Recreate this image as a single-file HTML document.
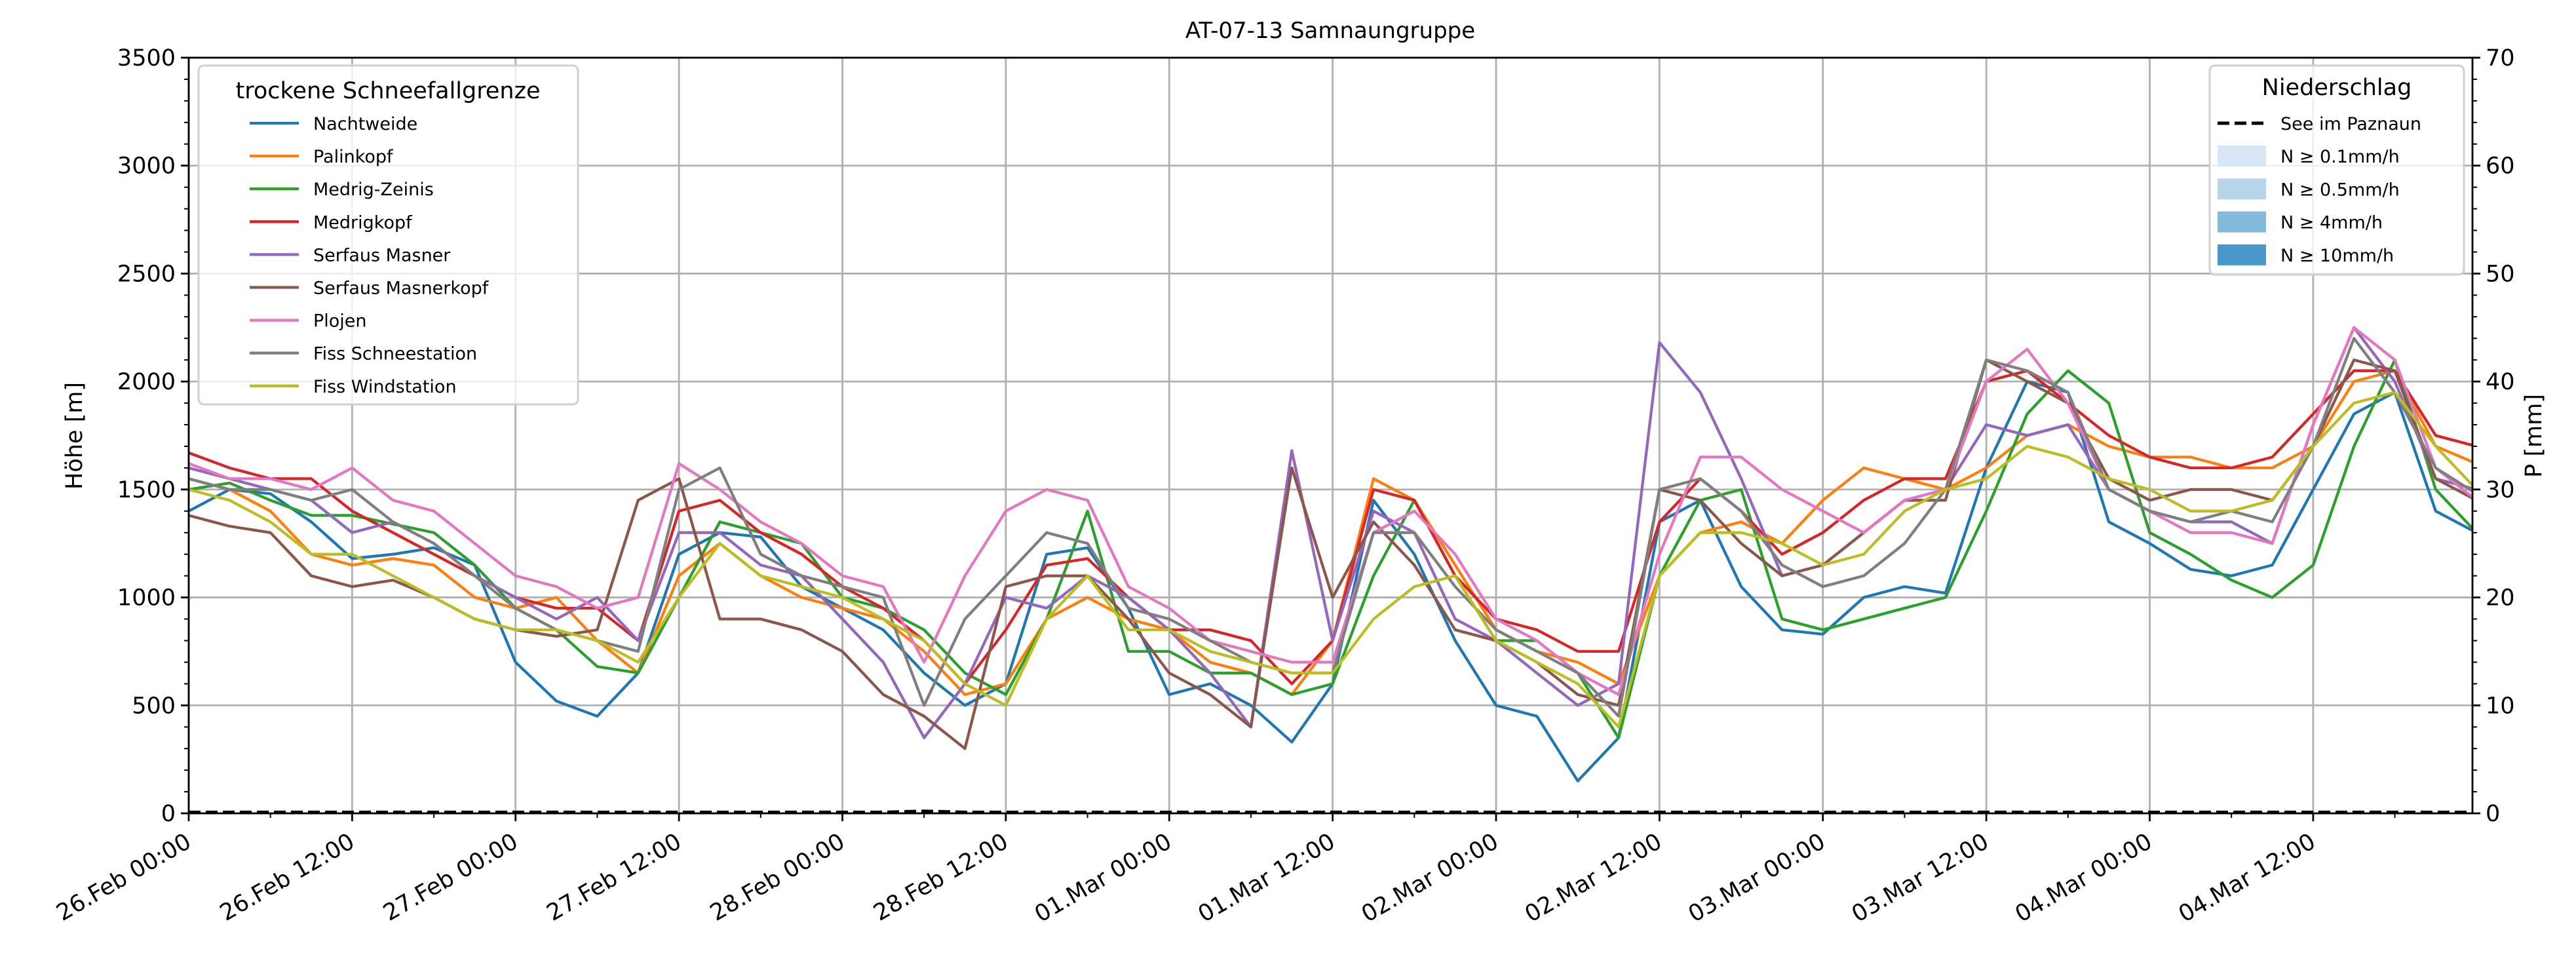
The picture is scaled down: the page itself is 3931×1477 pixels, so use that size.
<!DOCTYPE html>
<html><head><meta charset="utf-8"><style>
html,body{margin:0;padding:0;background:#fff;}
svg{display:block;font-family:"DejaVu Sans","Liberation Sans",sans-serif;}
</style></head><body>
<svg id="chart" width="3931" height="1477" viewBox="0 0 3931 1477" xmlns="http://www.w3.org/2000/svg">
<defs><clipPath id="plotclip"><rect x="288" y="88" width="3485" height="1153"/></clipPath></defs>
<rect x="0" y="0" width="3931" height="1477" fill="#fff"/>
<g id="grid"></g>
<g id="series" clip-path="url(#plotclip)"></g>
<g id="axes"></g>
<text x="2030" y="58" font-size="34" text-anchor="middle">AT-07-13 Samnaungruppe</text>
<text x="0" y="0" font-size="35" text-anchor="middle" transform="translate(125,665) rotate(-90)">Höhe [m]</text>
<text x="0" y="0" font-size="35" text-anchor="middle" transform="translate(3878,665) rotate(-90)">P [mm]</text>
<g id="legend1">
<rect x="303" y="100" width="579" height="517" rx="8" fill="#fff" fill-opacity="0.8" stroke="#d0d0d0" stroke-width="3"/>
<text x="592" y="150" font-size="35" text-anchor="middle">trockene Schneefallgrenze</text>
</g>
<g id="legend2">
<rect x="3372" y="100" width="388" height="319" rx="8" fill="#fff" fill-opacity="0.8" stroke="#d0d0d0" stroke-width="3"/>
<text x="3566" y="145" font-size="35" text-anchor="middle">Niederschlag</text>
</g>
</svg>
<script>
const hours = [];
for (let i = 0; i <= 56; i++) hours.push(i * 3);
const names = ["Nachtweide","Palinkopf","Medrig-Zeinis","Medrigkopf","Serfaus Masner","Serfaus Masnerkopf","Plojen","Fiss Schneestation","Fiss Windstation"];
const colors = ["#1f77b4","#ff7f0e","#2ca02c","#d62728","#9467bd","#8c564b","#e377c2","#7f7f7f","#bcbd22"];
const nachtweide = [1400,1500,1480,1350,1180,1200,1230,1150,700,520,450,650,1200,1300,1280,1050,950,850,650,500,600,1200,1230,950,550,600,500,330,600,1450,1200,800,500,450,150,350,1350,1450,1050,850,830,1000,1050,1020,1600,2000,1950,1350,1250,1130,1100,1150,1500,1850,1950,1400,1300];
const palinkopf = [1550,1500,1400,1200,1150,1180,1150,1000,950,1000,800,650,1100,1250,1100,1000,950,900,750,550,600,900,1000,900,850,700,650,550,800,1550,1450,1150,850,750,700,600,1100,1300,1350,1250,1450,1600,1550,1500,1600,1750,1800,1700,1650,1650,1600,1600,1700,2000,2050,1700,1620];
const medrigZeinis = [1500,1530,1450,1380,1380,1340,1300,1150,950,850,680,650,1000,1350,1300,1250,1000,950,850,650,550,900,1400,750,750,650,650,550,600,1100,1450,1100,800,800,650,350,1100,1450,1500,900,850,900,950,1000,1400,1850,2050,1900,1300,1200,1080,1000,1150,1700,2100,1500,1300];
const medrigkopf = [1670,1600,1550,1550,1400,1300,1200,1100,1000,950,950,800,1400,1450,1300,1200,1050,950,800,600,850,1150,1180,1000,850,850,800,600,800,1500,1450,1100,900,850,750,750,1350,1550,1400,1200,1300,1450,1550,1550,2000,2050,1900,1750,1650,1600,1600,1650,1850,2050,2050,1750,1700];
const serfausMasner = [1600,1550,1500,1450,1300,1350,1250,1100,1000,900,1000,800,1300,1300,1150,1100,900,700,350,600,1000,950,1100,1000,850,650,400,1680,800,1400,1300,900,800,650,500,600,2180,1950,1550,1100,1150,1300,1450,1500,1800,1750,1800,1500,1400,1350,1350,1250,1800,2250,2000,1550,1500];
const serfausMasnerkopf = [1380,1330,1300,1100,1050,1080,1000,900,850,820,850,1450,1550,900,900,850,750,550,450,300,1050,1100,1100,900,650,550,400,1600,1000,1350,1150,850,800,700,550,500,1500,1450,1250,1100,1150,1300,1450,1450,2100,2000,1900,1550,1450,1500,1500,1450,1700,2100,2050,1550,1450];
const plojen = [1620,1550,1550,1500,1600,1450,1400,1250,1100,1050,950,1000,1620,1500,1350,1250,1100,1050,700,1100,1400,1500,1450,1050,950,800,750,700,700,1300,1400,1200,900,800,650,550,1200,1650,1650,1500,1400,1300,1450,1500,2000,2150,1900,1500,1400,1300,1300,1250,1800,2250,2100,1600,1450];
const fissSchnee = [1550,1500,1500,1450,1500,1350,1250,1100,950,850,800,750,1500,1600,1200,1100,1050,1000,500,900,1100,1300,1250,950,900,800,700,650,650,1300,1300,1050,850,750,650,450,1500,1550,1400,1150,1050,1100,1250,1500,2100,2050,1950,1500,1400,1350,1400,1350,1700,2200,1950,1600,1480];
const fissWind = [1500,1450,1350,1200,1200,1100,1000,900,850,850,800,700,1000,1250,1100,1050,1000,900,800,600,500,900,1100,850,850,750,700,650,650,900,1050,1100,800,700,600,400,1100,1300,1300,1250,1150,1200,1400,1500,1550,1700,1650,1550,1500,1400,1400,1450,1700,1900,1950,1700,1500];
const allSeries = [nachtweide,palinkopf,medrigZeinis,medrigkopf,serfausMasner,serfausMasnerkopf,plojen,fissSchnee,fissWind];
const precipSee = [0.1,0.1,0.1,0.1,0.1,0.1,0.1,0.1,0.1,0.1,0.1,0.1,0.1,0.1,0.1,0.1,0.1,0.1,0.2,0.1,0.1,0.1,0.1,0.1,0.1,0.1,0.1,0.1,0.1,0.1,0.1,0.1,0.1,0.1,0.1,0.1,0.1,0.1,0.1,0.1,0.1,0.1,0.1,0.1,0.1,0.1,0.1,0.1,0.1,0.1,0.1,0.1,0.1,0.1,0.1,0.1,0.1];
const yTicks = [0,500,1000,1500,2000,2500,3000,3500];
const y2Ticks = [0,10,20,30,40,50,60,70];
const xTickLabels = ["26.Feb 00:00","26.Feb 12:00","27.Feb 00:00","27.Feb 12:00","28.Feb 00:00","28.Feb 12:00","01.Mar 00:00","01.Mar 12:00","02.Mar 00:00","02.Mar 12:00","03.Mar 00:00","03.Mar 12:00","04.Mar 00:00","04.Mar 12:00"];
const precipLegend = ["N ≥ 0.1mm/h","N ≥ 0.5mm/h","N ≥ 4mm/h","N ≥ 10mm/h"];
const precipColors = ["#d6e6f4","#b7d4ea","#82badb","#4a98c9"];

const L=288,R=3773,T=88,B=1241, XMAX=167.7;
const xs = h => L + (R-L)*h/XMAX;
const ys = v => B - (B-T)*v/3500;
const ys2 = v => B - (B-T)*v/70;
const NS="http://www.w3.org/2000/svg";
function mk(tag, attrs, parent){const e=document.createElementNS(NS,tag);for(const k in attrs)e.setAttribute(k,attrs[k]);parent.appendChild(e);return e;}
const grid=document.getElementById('grid'), axes=document.getElementById('axes'), ser=document.getElementById('series');

xTickLabels.forEach((lab,i)=>{
  const x=xs(i*12);
  const g=mk('line',{x1:x,y1:T,x2:x,y2:B,stroke:'#b0b0b0','stroke-width':2.8},grid);
  
  
  const t=mk('line',{x1:x,y1:B,x2:x,y2:B+12,stroke:'#000','stroke-width':2.8},axes);
  
  
  const tx=mk('text',{x:0,y:0,'font-size':35,'text-anchor':'end',transform:`translate(${x+6},${B+50}) rotate(-30)`},axes);
  tx.textContent=lab;
  
  
});
for(let h=6;h<XMAX;h+=12){const x=xs(h);mk('line',{x1:x,y1:B,x2:x,y2:B+7,stroke:'#000','stroke-width':2},axes);}
yTicks.forEach(v=>{
  const y=ys(v);
  const g=mk('line',{x1:L,y1:y,x2:R,y2:y,stroke:'#b0b0b0','stroke-width':2.8},grid);
  
  
  mk('line',{x1:L-12,y1:y,x2:L,y2:y,stroke:'#000','stroke-width':2.8},axes);
  const tx=mk('text',{x:L-20,y:y+12,'font-size':35,'text-anchor':'end'},axes);
  tx.textContent=v;
  
  
});
for(let v=100;v<3500;v+=100){if(v%500){const y=ys(v);mk('line',{x1:L-7,y1:y,x2:L,y2:y,stroke:'#000','stroke-width':2},axes);}}
y2Ticks.forEach(v=>{
  const y=ys2(v);
  mk('line',{x1:R,y1:y,x2:R+12,y2:y,stroke:'#000','stroke-width':2.8},axes);
  const tx=mk('text',{x:R+20,y:y+12,'font-size':35,'text-anchor':'start'},axes);
  tx.textContent=v;
  
  
});
for(let v=2;v<70;v+=2){if(v%10){const y=ys2(v);mk('line',{x1:R,y1:y,x2:R+7,y2:y,stroke:'#000','stroke-width':2},axes);}}
const frame=mk('rect',{x:L,y:T,width:R-L,height:B-T,fill:'none',stroke:'#000','stroke-width':2.8},axes);



allSeries.forEach((arr,si)=>{
  const d=arr.map((v,i)=>(i?'L':'M')+xs(hours[i]).toFixed(1)+','+ys(v).toFixed(1)).join(' ');
  const p=mk('path',{d:d,fill:'none',stroke:colors[si],'stroke-width':4.3,'stroke-linejoin':'round'},ser);
  
  
});
const pd=precipSee.map((v,i)=>(i?'L':'M')+xs(hours[i]).toFixed(1)+','+ys2(v).toFixed(1)).join(' ');
const pp=mk('path',{d:pd,fill:'none',stroke:'#000','stroke-width':5,'stroke-dasharray':'18,8'},ser);



const lg1=document.getElementById('legend1');
names.forEach((n,i)=>{
  const y=188+i*50.1;
  mk('line',{x1:381,y1:y,x2:456,y2:y,stroke:colors[i],'stroke-width':4.3},lg1);
  const t=mk('text',{x:478,y:y+10,'font-size':27},lg1);
  t.textContent=n;
  
  
});
const lg2=document.getElementById('legend2');
mk('line',{x1:3384,y1:188,x2:3458,y2:188,stroke:'#000','stroke-width':5,'stroke-dasharray':'18,8'},lg2);
const st=mk('text',{x:3480,y:198,'font-size':27},lg2);
st.textContent='See im Paznaun';


precipLegend.forEach((n,i)=>{
  const y=238+i*50.3;
  mk('rect',{x:3384,y:y-16,width:74,height:32,fill:precipColors[i]},lg2);
  const t=mk('text',{x:3480,y:y+10,'font-size':27},lg2);
  t.textContent=n;
  
  
});
</script>
</body></html>
